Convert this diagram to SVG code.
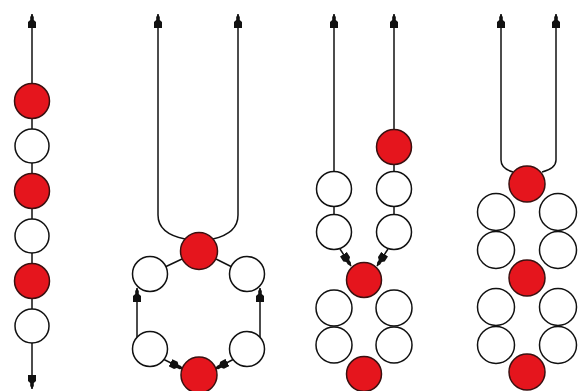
<svg xmlns="http://www.w3.org/2000/svg" width="579" height="391" viewBox="0 0 579 391">
<defs>
<style>
.r{fill:#e5151d;stroke:#3a1010;stroke-width:1.5}
.w{fill:#fff;stroke:#111;stroke-width:1.5}
.c{fill:none;stroke:#111;stroke-width:1.5}
.a{fill:none;stroke:#111;stroke-width:1.5;marker-end:url(#ah)}
</style>
<marker id="ah" viewBox="0 -4.5 14 9" refX="14" refY="0" markerWidth="14" markerHeight="9" markerUnits="userSpaceOnUse" orient="auto">
<path d="M14,0 L11,-1.8 L8,-1.8 L6,-4 L0,-4 L0,4 L6,4 L8,1.8 L11,1.8 Z" fill="#111"/>
</marker>
</defs>
<rect width="579" height="391" fill="#fff"/>
<g id="connectors">
<path class="a" d="M32,84 L32,14"/>
<path class="c" d="M32,118 L32,130 M32,163 L32,175 M32,208 L32,220 M32,253 L32,265 M32,298 L32,310"/>
<path class="a" d="M32,342 L32,389"/>
<path class="a" d="M158,215 L158,14"/>
<path class="a" d="M238,215 L238,14"/>
<path class="c" d="M158,215 C158,229 170,236 185,239"/>
<path class="c" d="M238,215 C238,229 226,236 213,239"/>
<path class="c" d="M165,267 L182,259 M232,267 L216,259"/>
<path class="a" d="M137,338 L137,288"/>
<path class="a" d="M260,338 L260,288"/>
<path class="a" d="M163,359 L183,369"/>
<path class="a" d="M234,359 L215,369"/>
<path class="a" d="M334,172 L334,14"/>
<path class="a" d="M394,130 L394,14"/>
<path class="c" d="M394,164 L394,172 M334,206 L334,215 M394,206 L394,215"/>
<path class="a" d="M340,249 L351,266"/>
<path class="a" d="M388,249 L377,266"/>
<path class="a" d="M501,160 L501,14"/>
<path class="a" d="M556,160 L556,14"/>
<path class="c" d="M501,160 C501,166 506,170 513,172"/>
<path class="c" d="M556,160 C556,166 550,170 542,172"/>
</g>
<g id="p1n1"><circle class="r" cx="32" cy="101" r="17.5"/></g>
<g id="p1n2"><circle class="w" cx="32" cy="146" r="17"/></g>
<g id="p1n3"><circle class="r" cx="32" cy="191" r="17.5"/></g>
<g id="p1n4"><circle class="w" cx="32" cy="236" r="17"/></g>
<g id="p1n5"><circle class="r" cx="32" cy="281" r="17.5"/></g>
<g id="p1n6"><circle class="w" cx="32" cy="326" r="17"/></g>
<g id="p2n1"><circle class="r" cx="199" cy="251" r="18.5"/></g>
<g id="p2n2"><circle class="w" cx="150" cy="274" r="17.5"/></g>
<g id="p2n3"><circle class="w" cx="247" cy="274" r="17.5"/></g>
<g id="p2n4"><circle class="w" cx="150" cy="349" r="17.5"/></g>
<g id="p2n5"><circle class="w" cx="247" cy="349" r="17.5"/></g>
<g id="p2n6"><circle class="r" cx="199" cy="375" r="18"/></g>
<g id="p3n1"><circle class="r" cx="394" cy="147" r="17.5"/></g>
<g id="p3n2"><circle class="w" cx="334" cy="189" r="17.5"/></g>
<g id="p3n3"><circle class="w" cx="394" cy="189" r="17.5"/></g>
<g id="p3n4"><circle class="w" cx="334" cy="232" r="17.5"/></g>
<g id="p3n5"><circle class="w" cx="394" cy="232" r="17.5"/></g>
<g id="p3n6"><circle class="r" cx="364" cy="280" r="17.5"/></g>
<g id="p3n7"><circle class="w" cx="334" cy="308" r="18"/></g>
<g id="p3n8"><circle class="w" cx="394" cy="308" r="18"/></g>
<g id="p3n9"><circle class="w" cx="334" cy="345" r="18"/></g>
<g id="p3n10"><circle class="w" cx="394" cy="345" r="18"/></g>
<g id="p3n11"><circle class="r" cx="364" cy="374" r="17.5"/></g>
<g id="p4n1"><circle class="r" cx="527" cy="184" r="18"/></g>
<g id="p4n2"><circle class="w" cx="496" cy="212" r="18.5"/></g>
<g id="p4n3"><circle class="w" cx="558" cy="212" r="18.5"/></g>
<g id="p4n4"><circle class="w" cx="496" cy="250" r="18.5"/></g>
<g id="p4n5"><circle class="w" cx="558" cy="250" r="18.5"/></g>
<g id="p4n6"><circle class="r" cx="527" cy="278" r="18"/></g>
<g id="p4n7"><circle class="w" cx="496" cy="307" r="18.5"/></g>
<g id="p4n8"><circle class="w" cx="558" cy="307" r="18.5"/></g>
<g id="p4n9"><circle class="w" cx="496" cy="345" r="18.5"/></g>
<g id="p4n10"><circle class="w" cx="558" cy="345" r="18.5"/></g>
<g id="p4n11"><circle class="r" cx="527" cy="372" r="18"/></g>
</svg>
